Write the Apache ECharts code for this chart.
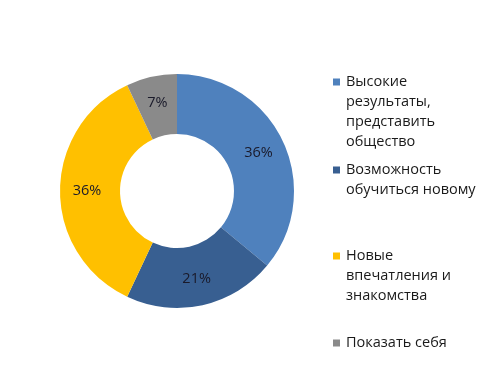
<!DOCTYPE html>
<html>
<head>
<meta charset="utf-8">
<script src="https://cdn.jsdelivr.net/npm/echarts@6/dist/echarts.min.js"></script>
<style>html,body{margin:0;padding:0;background:#fff}#c{width:500px;height:381px}</style>
</head>
<body>
<div id="c"></div>
<script>
const categories = ['Высокие результаты, представить общество', 'Возможность обучиться новому', 'Новые впечатления и знакомства', 'Показать себя'];
const legendLines = [['Высокие', 'результаты,', 'представить', 'общество'], ['Возможность', 'обучиться новому'], ['Новые', 'впечатления и', 'знакомства'], ['Показать себя']];
const values = [36, 21, 36, 7];
const colors = ['#4F81BD', '#385F91', '#FFC000', '#8A8A8A'];
const legendTops = [67, 155, 241, 328];

const LH = 20;
function iconFor(n) {
  const h = n * LH;
  return 'path://M0,' + (LH/2 - 3.5) + 'L7,' + (LH/2 - 3.5) + 'L7,' + (LH/2 + 3.5) + 'L0,' + (LH/2 + 3.5) + 'Z M0,0 M0,' + h;
}

const legends = categories.map((c, i) => ({
  data: [c],
  orient: 'vertical',
  left: 328,
  top: legendTops[i],
  icon: iconFor(legendLines[i].length),
  itemWidth: 7,
  itemHeight: legendLines[i].length * LH,
  itemGap: 6,
  selectedMode: false,
  formatter: () => legendLines[i].join('\n'),
  textStyle: { fontFamily: 'Open Sans', fontSize: 14.5, color: '#1a1a1a', lineHeight: LH, padding: [0, 0, 0, 1] }
}));

const chart = echarts.init(document.getElementById('c'));
chart.setOption({
  animation: false,
  color: colors,
  legend: legends,
  series: [{
    type: 'pie',
    center: [177, 191],
    radius: [57, 117],
    startAngle: 90,
    clockwise: true,
    data: categories.map((c, i) => ({ name: c, value: values[i] })),
    label: {
      position: 'inside',
      formatter: p => p.value + '%',
      fontFamily: 'Open Sans',
      fontSize: 14.5,
      color: '#1a1a2a'
    },
    labelLine: { show: false },
    itemStyle: { borderColor: '#fff', borderWidth: 0 }
  }]
});
</script>
</body>
</html>
